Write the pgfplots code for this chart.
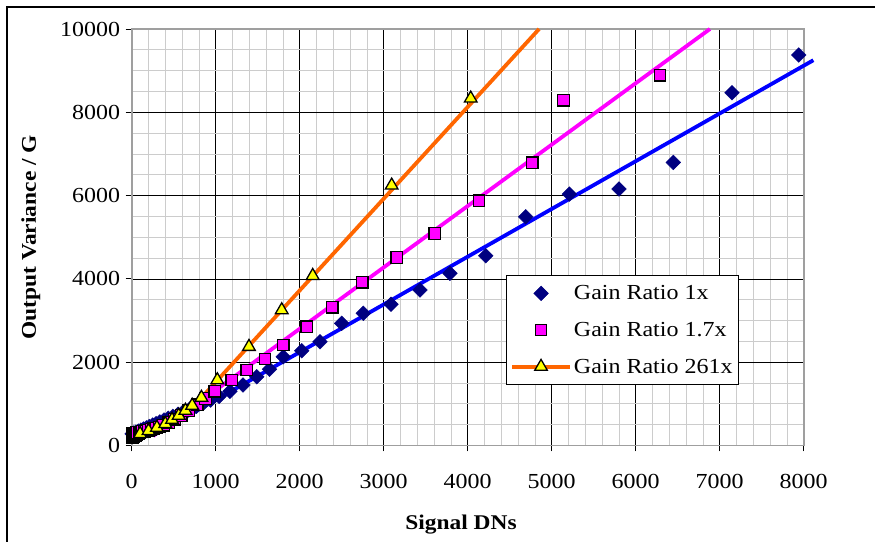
\documentclass[border=0pt]{standalone}
\usepackage{pgfplots}
\pgfplotsset{compat=1.18}
\usepackage{fontspec}
\setmainfont{Liberation Serif}[FakeStretch=1.12]
\definecolor{navyd}{RGB}{0,0,128}
\definecolor{magf}{RGB}{255,0,255}
\definecolor{yelf}{RGB}{255,255,0}
\definecolor{bluel}{RGB}{0,0,255}
\definecolor{orangel}{RGB}{255,102,0}
\begin{document}
\begin{tikzpicture}[x=1bp,y=1bp]
\useasboundingbox (0,0) rectangle (875,542);
\draw[line width=1.4bp] (7,0) -- (7,535) -- (875,535);
\begin{axis}[
  at={(131.7bp,96.5bp)}, anchor=south west,
  scale only axis, width=672bp, height=416.5bp,
  xmin=0, xmax=8000, ymin=0, ymax=10000,
  xtick={0,1000,...,8000}, ytick={0,2000,...,10000},
  minor x tick num=4, minor y tick num=3,
  grid=both,
  major grid style={black, line width=0.75bp},
  minor grid style={gray!40, line width=0.8bp},
  tick align=outside, major tick length=6bp, minor tick length=0pt,
  xtick pos=left, ytick pos=left,
  tick style={black, line width=0.8bp},
  axis line style={draw=gray!75, line width=1.6bp},
  scaled ticks=false,
  /pgf/number format/assume math mode=true,
  /pgf/number format/1000 sep={},
  tick label style={font=\fontsize{21.5}{21.5}\selectfont},
  xticklabel style={yshift=-19bp},
  yticklabel style={xshift=-2bp},
  clip=false,
  xlabel={\textbf{Signal DNs}},
  ylabel={\textbf{Output Variance / G}},
  xlabel style={at={(axis description cs:0.49,-0.19)}, anchor=center, font=\fontsize{21}{21}\selectfont},
  ylabel style={at={(axis description cs:-0.15,0.5)}, anchor=center, font=\fontsize{21}{21}\selectfont},
  legend image code/.code={\draw[mark repeat=2,mark phase=2,#1] plot coordinates {(0bp,0bp) (29bp,0bp) (58bp,0bp)};},
  legend style={at={(rel axis cs:0.5566,0.409)}, anchor=north west, draw=black, line width=0.8bp,
    fill=white, font=\fontsize{21.5}{21.5}\selectfont, row sep=17bp, inner xsep=4bp, inner ysep=8bp,
    /tikz/every even column/.append style={column sep=2bp}},
  legend cell align=left,
]
% Gain Ratio 1x
\addplot[forget plot, only marks, mark=square*, mark size=5.2bp,
  mark options={rotate=45, fill=navyd, draw=navyd, line width=0.4bp}] coordinates {
(5,280)(25,300)(50,320)(80,345)(110,370)(140,395)(175,425)(210,455)(250,490)(290,525)
(335,565)(385,610)(435,655)(490,700)(550,750)(615,810)(690,875)(770,940)(850,1010)(940,1090)
(1040,1180)(1170,1300)(1325,1452)(1488,1651)(1640,1830)(1805,2131)(2024,2275)(2242,2491)
(2500,2933)(2757,3173)(3087,3389)(3432,3732)(3789,4133)(4214,4555)(4690,5491)(5210,6036)
(5801,6156)(6447,6797)(7147,8468)(7941,9377)};
% Gain Ratio 1.7x
\addplot[forget plot, only marks, mark=square*, mark size=5.8bp,
  mark options={fill=magf, draw=black, line width=1.3bp}] coordinates {
(10,200)(22,215)(35,230)(48,245)(62,260)(76,275)
(10,290)(25,295)(40,300)(55,305)(70,310)(90,318)(110,325)(130,335)(150,345)(175,355)
(200,370)(230,385)(260,400)(290,420)(330,445)(380,490)(440,550)(510,630)(590,720)(680,840)
(780,980)(880,1130)(990,1300)(1190,1572)(1369,1812)(1587,2076)(1805,2412)(2083,2851)
(2388,3317)(2745,3917)(3155,4517)(3607,5093)(4135,5875)(4769,6787)(5140,8290)(6289,8892)};
% Gain Ratio 261x
\addplot[forget plot, only marks, mark=triangle*, mark size=7.3bp,
  mark options={fill=yelf, draw=black, line width=1.3bp}] coordinates {
(100,280)(200,350)(300,430)(400,520)(480,620)(560,720)(640,840)(720,960)(830,1150)
(1019,1572)(1396,2371)(1786,3252)(2155,4075)(3095,6245)(4036,8333)};
% trend lines
\addplot[forget plot, bluel, line width=3.8bp] coordinates {(255,240)(8115,9250)};
\addplot[forget plot, magf, line width=3.8bp] coordinates {(255,230)(6884,10000)};
\addplot[forget plot, orangel, line width=3.8bp] coordinates {(800,1080)(4850,10000)};
% legend
\addlegendimage{only marks, mark=square*, mark size=5.2bp, mark options={rotate=45, fill=navyd, draw=navyd, line width=0.4bp}}
\addlegendentry{Gain Ratio 1x}
\addlegendimage{only marks, mark=square*, mark size=5.3bp, mark options={fill=magf, draw=black, line width=1.3bp}}
\addlegendentry{Gain Ratio 1.7x}
\addlegendimage{orangel, line width=3.8bp, mark=triangle*, mark size=7.3bp, mark options={fill=yelf, draw=black, line width=1.3bp}}
\addlegendentry{Gain Ratio 261x}
\end{axis}
\end{tikzpicture}
\end{document}
